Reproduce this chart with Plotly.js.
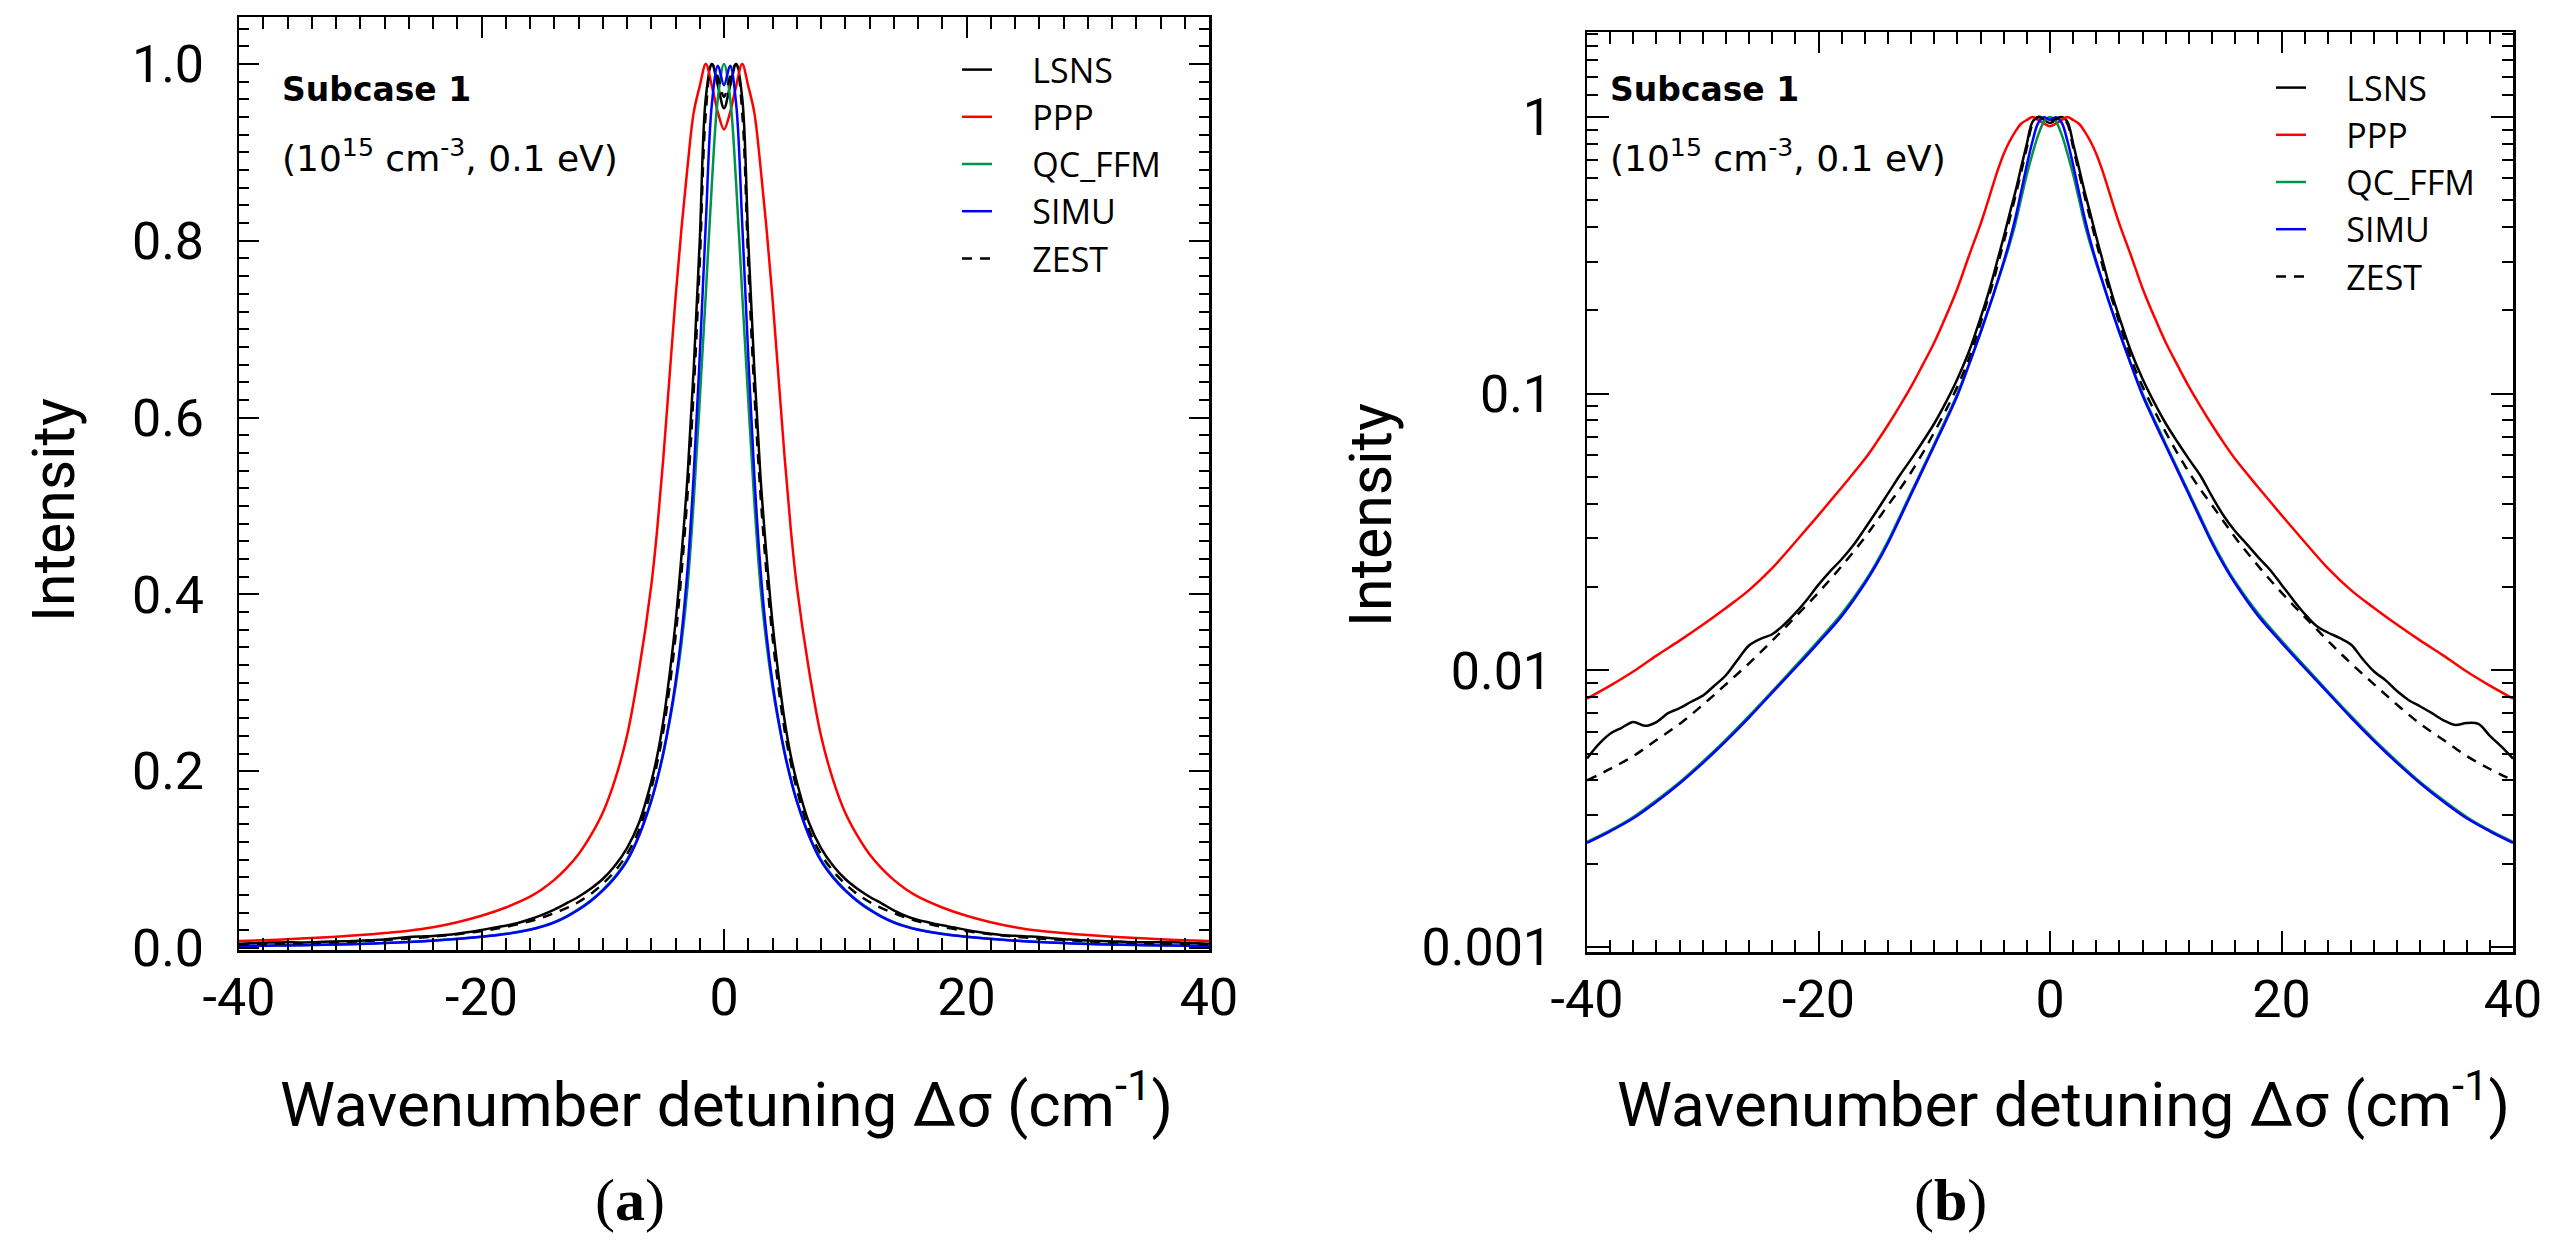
<!DOCTYPE html>
<html><head><meta charset="utf-8">
<script src="https://cdn.plot.ly/plotly-3.0.1.min.js"></script>
<style>html,body{margin:0;padding:0;background:#fff}#chart{width:2555px;height:1257px}</style>
</head><body><div id="chart"></div>
<script>
// Wavenumber detuning grid (cm^-1) shared by PPP, QC_FFM, SIMU, ZEST
const detuning = [-40,-38,-36,-34,-32,-30,-28,-26,-24,-22,-20,-18,-16,-15,-14,-13,-12,-11,-10,-9,-8,-7,-6,-5.5,-5,-4.5,-4,-3.5,-3,-2.5,-2,-1.5,-1,-0.5,0,0.5,1,1.5,2,2.5,3,3.5,4,4.5,5,5.5,6,7,8,9,10,11,12,13,14,15,16,18,20,22,24,26,28,30,32,34,36,38,40];

const ppp = [0.0079,0.0088,0.0099,0.0113,0.0128,0.0146,0.0168,0.0195,0.0234,0.0291,0.0364,0.0458,0.058,0.0665,0.077,0.09,0.106,0.127,0.153,0.19,0.24,0.315,0.41,0.475,0.555,0.645,0.735,0.815,0.885,0.945,0.975,1.0,0.975,0.945,0.926,0.945,0.975,1.0,0.975,0.945,0.885,0.815,0.735,0.645,0.555,0.475,0.41,0.315,0.24,0.19,0.153,0.127,0.106,0.09,0.077,0.0665,0.058,0.0458,0.0364,0.0291,0.0234,0.0195,0.0168,0.0146,0.0128,0.0113,0.0099,0.0088,0.0079];

const qcffm = [0.0024,0.00264,0.00295,0.00339,0.00394,0.00468,0.00562,0.00684,0.0084,0.01035,0.0128,0.016,0.0209,0.0245,0.0293,0.0358,0.0439,0.0537,0.0658,0.0808,0.1,0.128,0.167,0.192,0.22,0.255,0.295,0.345,0.41,0.505,0.62,0.74,0.865,0.962,1.0,0.962,0.865,0.74,0.62,0.505,0.41,0.345,0.295,0.255,0.22,0.192,0.167,0.128,0.1,0.0808,0.0658,0.0537,0.0439,0.0358,0.0293,0.0245,0.0209,0.016,0.0128,0.01035,0.0084,0.00684,0.00562,0.00468,0.00394,0.00339,0.00295,0.00264,0.0024];

const simu = [0.00238,0.00262,0.00292,0.00335,0.0039,0.00462,0.00555,0.00675,0.0083,0.0102,0.0126,0.0157,0.0206,0.0241,0.0288,0.0352,0.0432,0.0529,0.0648,0.0795,0.0985,0.127,0.166,0.191,0.221,0.257,0.3,0.355,0.43,0.535,0.67,0.82,0.955,0.998,0.976,0.998,0.955,0.82,0.67,0.535,0.43,0.355,0.3,0.257,0.221,0.191,0.166,0.127,0.0985,0.0795,0.0648,0.0529,0.0432,0.0352,0.0288,0.0241,0.0206,0.0157,0.0126,0.0102,0.0083,0.00675,0.00555,0.00462,0.0039,0.00335,0.00292,0.00262,0.00238];

const zest = [0.004,0.0044,0.0049,0.0056,0.0064,0.0075,0.0089,0.0106,0.0128,0.0156,0.0191,0.0238,0.0302,0.0345,0.0395,0.045,0.052,0.061,0.0725,0.087,0.106,0.134,0.18,0.21,0.246,0.294,0.352,0.425,0.515,0.63,0.775,0.945,1.0,0.985,0.963,0.985,1.0,0.945,0.775,0.63,0.515,0.425,0.352,0.294,0.246,0.21,0.18,0.134,0.106,0.087,0.0725,0.061,0.052,0.045,0.0395,0.0345,0.0302,0.0238,0.0191,0.0156,0.0128,0.0106,0.0089,0.0075,0.0064,0.0056,0.0049,0.0044,0.004];

// LSNS has its own, finer grid in the wings (shows the small wiggles)
const lsnsDetuning = [-40,-39,-38,-37,-36,-35,-34,-33,-32,-31,-30,-29,-28,-27,-26,-25,-24,-23,-22,-21,-20,-19,-18,-17,-16,-15,-14,-13,-12,-11,-10,-9,-8,-7,-6,-5.5,-5,-4.5,-4,-3.5,-3,-2.5,-2,-1.5,-1,-0.5,0,0.5,1,1.5,2,2.5,3,3.5,4,4.5,5,5.5,6,7,8,9,10,11,12,13,14,15,16,17,18,19,20,21,22,23,24,25,26,27,28,29,30,31,32,33,34,35,36,37,38,39,40];

const lsns = [0.0048,0.0054,0.0059,0.0062,0.0065,0.0063,0.0065,0.007,0.0073,0.0077,0.0081,0.0088,0.0096,0.0109,0.0123,0.013,0.0135,0.0146,0.0161,0.018,0.0204,0.0228,0.0252,0.0283,0.0325,0.0375,0.0435,0.0505,0.058,0.067,0.078,0.093,0.113,0.142,0.188,0.218,0.257,0.308,0.368,0.445,0.535,0.655,0.8,0.962,1.0,0.975,0.95,0.975,1.0,0.962,0.8,0.655,0.535,0.445,0.368,0.308,0.257,0.218,0.188,0.142,0.113,0.093,0.078,0.067,0.058,0.0505,0.0425,0.0362,0.0318,0.0286,0.0256,0.0231,0.0204,0.018,0.016,0.0145,0.0137,0.0131,0.0124,0.011,0.0099,0.0092,0.0084,0.0078,0.0074,0.007,0.0066,0.00635,0.00645,0.0064,0.0058,0.0053,0.0048];

const seriesNames = ['LSNS','PPP','QC_FFM','SIMU','ZEST'];
const seriesColors = ['#000000','#ff0000','#00934a','#0000ff','#000000'];
const seriesDash = ['solid','solid','solid','solid','10px,8px'];

const xTickVals = [-40,-20,0,20,40];
const xTickText = ['-40','-20','0','20','40'];
const linTickVals = [0,0.2,0.4,0.6,0.8,1.0];
const linTickText = ['0.0','0.2','0.4','0.6','0.8','1.0'];
const logTickVals = [0.001,0.01,0.1,1];
const logTickText = ['0.001','0.01','0.1','1'];
const logMinorVals = [0.002,0.003,0.004,0.005,0.006,0.007,0.008,0.009,0.02,0.03,0.04,0.05,0.06,0.07,0.08,0.09,0.2,0.3,0.4,0.5,0.6,0.7,0.8,0.9,1.2,1.4,1.6,1.8,2.0];

const xData = [lsnsDetuning, detuning, detuning, detuning, detuning];
const yData = [lsns, ppp, qcffm, simu, zest];

const W = 2555, H = 1257;
const px = v => v / W;
const py = v => 1 - v / H;
const gap = '\u00a0\u00a0\u00a0\u00a0'; // space between the legend key and its label

const traces = [];
[['x','y','legend'],['x2','y2','legend2']].forEach(([xa, ya, lg]) => {
  seriesNames.forEach((name, i) => {
    traces.push({
      type: 'scatter', mode: 'lines', name: gap + name,
      x: xData[i], y: yData[i],
      xaxis: xa, yaxis: ya, legend: lg,
      line: {color: seriesColors[i], width: 2.5, dash: seriesDash[i], shape: 'spline', smoothing: 1}
    });
  });
});

const tickFont = {family: 'Roboto, Liberation Sans, sans-serif', size: 52, color: '#000'};
function xAxis(domain) {
  return {
    domain: domain, range: [-40, 40], tickmode: 'array', tickvals: xTickVals, ticktext: xTickText,
    ticks: 'inside', ticklen: 21, tickwidth: 2, tickcolor: '#000',
    showline: true, linewidth: 2.5, linecolor: '#000', mirror: 'ticks',
    showgrid: false, zeroline: false, tickfont: tickFont, ticklabelstandoff: 0,
    minor: {tickmode: 'linear', tick0: 0, dtick: 2, ticks: 'inside', ticklen: 12, tickwidth: 2, tickcolor: '#000', showgrid: false}
  };
}
const legendFont = {family: 'Open Sans, sans-serif', size: 34, color: '#000'};
const titleFont = {family: 'Roboto, sans-serif', size: 62, color: '#000'};
const yTitleFont = {family: 'Roboto, sans-serif', size: 59, color: '#000'};
const boldNote = {family: 'DejaVu Sans, sans-serif', size: 33, color: '#000'};
const plainNote = {family: 'DejaVu Sans, sans-serif', size: 36, color: '#000'};

const layout = {
  width: W, height: H,
  margin: {l: 0, r: 0, t: 0, b: 0},
  paper_bgcolor: '#fff', plot_bgcolor: '#fff',
  showlegend: true,
  xaxis: Object.assign(xAxis([px(239), px(1209)]), {anchor: 'y'}),
  xaxis2: Object.assign(xAxis([px(1587), px(2513)]), {anchor: 'y2'}),
  yaxis: {
    domain: [py(950), py(17)], anchor: 'x', range: [-0.0023, 1.0532],
    tickmode: 'array', tickvals: linTickVals, ticktext: linTickText,
    ticks: 'inside', ticklen: 20, tickwidth: 2, tickcolor: '#000',
    showline: true, linewidth: 2.5, linecolor: '#000', mirror: 'ticks',
    showgrid: false, zeroline: false, tickfont: tickFont, ticklabelstandoff: 22,
    minor: {tickmode: 'linear', tick0: 0, dtick: 0.02, ticks: 'inside', ticklen: 10, tickwidth: 2, tickcolor: '#000', showgrid: false}
  },
  yaxis2: {
    domain: [py(952), py(32)], anchor: 'x2', type: 'log', range: [-3.018, 0.307],
    tickmode: 'array', tickvals: logTickVals, ticktext: logTickText,
    ticks: 'inside', ticklen: 22, tickwidth: 2, tickcolor: '#000',
    showline: true, linewidth: 2.5, linecolor: '#000', mirror: 'ticks',
    showgrid: false, zeroline: false, tickfont: tickFont, ticklabelstandoff: 22,
    minor: {tickmode: 'array', tickvals: logMinorVals, ticks: 'inside', ticklen: 11, tickwidth: 2, tickcolor: '#000', showgrid: false}
  },
  legend: {x: px(957), y: py(41), xanchor: 'left', yanchor: 'top', bgcolor: 'rgba(0,0,0,0)',
    font: legendFont, tracegroupgap: 0},
  legend2: {x: px(2271), y: py(59), xanchor: 'left', yanchor: 'top', bgcolor: 'rgba(0,0,0,0)',
    font: legendFont, tracegroupgap: 0},
  annotations: [
    {text: '<b>Subcase 1</b>', xref: 'paper', yref: 'paper', x: px(280), y: py(111), xanchor: 'left', yanchor: 'bottom', showarrow: false, font: boldNote},
    {text: '(10<sup>15</sup> cm<sup>-3</sup>, 0.1 eV)', xref: 'paper', yref: 'paper', x: px(280), y: py(181), xanchor: 'left', yanchor: 'bottom', showarrow: false, font: plainNote},
    {text: '<b>Subcase 1</b>', xref: 'paper', yref: 'paper', x: px(1608), y: py(111), xanchor: 'left', yanchor: 'bottom', showarrow: false, font: boldNote},
    {text: '(10<sup>15</sup> cm<sup>-3</sup>, 0.1 eV)', xref: 'paper', yref: 'paper', x: px(1608), y: py(181), xanchor: 'left', yanchor: 'bottom', showarrow: false, font: plainNote},
    {text: 'Wavenumber detuning Δσ (cm<sup>-1</sup>)', xref: 'paper', yref: 'paper', x: px(726), y: py(1143), xanchor: 'center', yanchor: 'bottom', showarrow: false, font: titleFont},
    {text: 'Wavenumber detuning Δσ (cm<sup>-1</sup>)', xref: 'paper', yref: 'paper', x: px(2063), y: py(1143), xanchor: 'center', yanchor: 'bottom', showarrow: false, font: titleFont},
    {text: 'Intensity', xref: 'paper', yref: 'paper', x: px(53), y: py(510), xanchor: 'center', yanchor: 'middle', textangle: -90, showarrow: false, font: yTitleFont},
    {text: 'Intensity', xref: 'paper', yref: 'paper', x: px(1370), y: py(515), xanchor: 'center', yanchor: 'middle', textangle: -90, showarrow: false, font: yTitleFont},
    {text: '(<b>a</b>)', xref: 'paper', yref: 'paper', x: px(630), y: py(1200), xanchor: 'center', yanchor: 'middle', showarrow: false, font: {family: 'Liberation Serif, serif', size: 60, color: '#000'}},
    {text: '(<b>b</b>)', xref: 'paper', yref: 'paper', x: px(1950), y: py(1200), xanchor: 'center', yanchor: 'middle', showarrow: false, font: {family: 'Liberation Serif, serif', size: 60, color: '#000'}}
  ]
};

Plotly.newPlot('chart', traces, layout, {staticPlot: true, displayModeBar: false});
</script></body></html>
